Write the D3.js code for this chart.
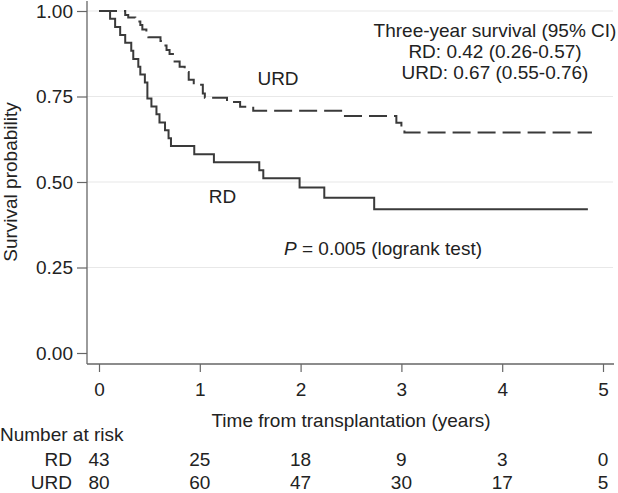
<!DOCTYPE html>
<html>
<head>
<meta charset="utf-8">
<script src="https://cdn.jsdelivr.net/npm/d3@7"></script>
<style>
  body { margin: 0; background: #fff; }
  svg { display: block; font-family: "Liberation Sans", Arial, Helvetica, sans-serif; }
</style>
</head>
<body>
<svg id="chart" width="618" height="493"></svg>
<script>
// ---- Data ----
const rdTimes = [0, 0.11, 0.16, 0.21, 0.26, 0.32, 0.34, 0.39, 0.41, 0.455, 0.48, 0.52, 0.57, 0.60, 0.655, 0.69, 0.714, 0.945, 1.14, 1.59, 1.63, 1.99, 2.235, 2.73, 4.85];
const rdSurv  = [1, 0.977, 0.953, 0.930, 0.907, 0.884, 0.860, 0.837, 0.814, 0.791, 0.744, 0.721, 0.698, 0.674, 0.651, 0.628, 0.605, 0.581, 0.558, 0.534, 0.511, 0.484, 0.454, 0.420, 0.420];

const urdTimes = [0, 0.26, 0.29, 0.36, 0.41, 0.43, 0.47, 0.49, 0.61, 0.64, 0.67, 0.70, 0.75, 0.80, 0.85, 0.89, 0.94, 1.03, 1.05, 1.27, 1.40, 1.53, 2.44, 2.95, 3.00, 3.03, 4.89];
const urdSurv  = [1, 0.988, 0.981, 0.969, 0.959, 0.946, 0.935, 0.923, 0.912, 0.899, 0.886, 0.874, 0.852, 0.837, 0.822, 0.799, 0.784, 0.759, 0.746, 0.734, 0.720, 0.708, 0.693, 0.673, 0.660, 0.645, 0.645];

const xTicks = [0, 1, 2, 3, 4, 5];
const yTicks = [0, 0.25, 0.5, 0.75, 1];
const riskGroups = ["RD", "URD"];
const riskRD  = [43, 25, 18, 9, 3, 0];
const riskURD = [80, 60, 47, 30, 17, 5];

const annotationLines = ["Three-year survival (95% CI)", "RD: 0.42 (0.26-0.57)", "URD: 0.67 (0.55-0.76)"];

// ---- Layout ----
const svg = d3.select("#chart");
const fs = 19;
const axisColor = "#666";
const textColor = "#222";
const lineColor = "#3a3a3a";

const x = d3.scaleLinear().domain([0, 5]).range([99, 603]);
const y = d3.scaleLinear().domain([0, 1]).range([353, 11]);

const plotLeft = 87, plotRight = 614, plotTop = 1, plotBottom = 364;

// gridlines
svg.append("g").selectAll("line")
  .data(yTicks.filter(d => d > 0))
  .join("line")
  .attr("x1", plotLeft).attr("x2", plotRight - 1)
  .attr("y1", d => y(d)).attr("y2", d => y(d))
  .attr("stroke", "#e8e8e8").attr("stroke-width", 1.2);

// y axis
const yAxis = svg.append("g")
  .attr("transform", `translate(${plotLeft},0)`)
  .call(d3.axisLeft(y).tickValues(yTicks).tickFormat(d3.format(".2f")).tickSize(10).tickPadding(4));
yAxis.select(".domain").remove();
yAxis.selectAll("line").attr("stroke", axisColor).attr("stroke-width", 1.2);
yAxis.selectAll("text").attr("font-size", fs).attr("fill", textColor)
  .attr("font-family", "Liberation Sans, Arial, sans-serif");

// x axis
const xAxis = svg.append("g")
  .attr("transform", `translate(0,${plotBottom})`)
  .call(d3.axisBottom(x).tickValues(xTicks).tickFormat(d3.format("d")).tickSize(8).tickPadding(11));
xAxis.select(".domain").remove();
xAxis.selectAll("line").attr("stroke", axisColor).attr("stroke-width", 1.2);
xAxis.selectAll("text").attr("font-size", fs).attr("fill", textColor)
  .attr("font-family", "Liberation Sans, Arial, sans-serif");

// axis lines
svg.append("line").attr("x1", plotLeft).attr("x2", plotLeft)
  .attr("y1", plotTop).attr("y2", plotBottom)
  .attr("stroke", axisColor).attr("stroke-width", 1.3);
svg.append("line").attr("x1", plotLeft).attr("x2", plotRight)
  .attr("y1", plotBottom).attr("y2", plotBottom)
  .attr("stroke", axisColor).attr("stroke-width", 1.3);

// axis titles
svg.append("text")
  .attr("transform", `translate(16.5,182) rotate(-90)`)
  .attr("text-anchor", "middle")
  .attr("font-size", fs).attr("fill", textColor)
  .text("Survival probability");

svg.append("text")
  .attr("x", x(2.5)).attr("y", 427)
  .attr("text-anchor", "middle")
  .attr("font-size", fs).attr("fill", textColor)
  .text("Time from transplantation (years)");

// curves
const line = d3.line().x(d => x(d[0])).y(d => y(d[1])).curve(d3.curveStepAfter);
const rdData = rdTimes.map((t, i) => [t, rdSurv[i]]);
const urdData = urdTimes.map((t, i) => [t, urdSurv[i]]);

svg.append("path").attr("d", line(urdData))
  .attr("fill", "none").attr("stroke", lineColor).attr("stroke-width", 2)
  .attr("stroke-dasharray", "18,7");
svg.append("path").attr("d", line(rdData))
  .attr("fill", "none").attr("stroke", lineColor).attr("stroke-width", 2);

// curve labels
svg.append("text").attr("x", 278).attr("y", 85).attr("text-anchor", "middle")
  .attr("font-size", fs).attr("fill", textColor).text("URD");
svg.append("text").attr("x", 222.5).attr("y", 203).attr("text-anchor", "middle")
  .attr("font-size", fs).attr("fill", textColor).text("RD");

// p-value
const pText = svg.append("text").attr("x", 284).attr("y", 255)
  .attr("font-size", fs).attr("fill", textColor);
pText.append("tspan").attr("font-style", "italic").text("P");
pText.append("tspan").text(" = 0.005 (logrank test)");

// annotation
svg.append("g").selectAll("text")
  .data(annotationLines)
  .join("text")
  .attr("x", 495).attr("y", (d, i) => 36.5 + i * 21)
  .attr("text-anchor", "middle")
  .attr("font-size", fs).attr("fill", textColor)
  .text(d => d);

// number at risk table
svg.append("text").attr("x", 0).attr("y", 441)
  .attr("font-size", fs).attr("fill", textColor).text("Number at risk");

const rows = [riskRD, riskURD];
const rowY = [466, 489];
rows.forEach((vals, r) => {
  svg.append("text").attr("x", 72).attr("y", rowY[r]).attr("text-anchor", "end")
    .attr("font-size", fs).attr("fill", textColor).text(riskGroups[r]);
  svg.append("g").selectAll("text")
    .data(vals)
    .join("text")
    .attr("x", (d, i) => x(xTicks[i]))
    .attr("y", rowY[r])
    .attr("text-anchor", "middle")
    .attr("font-size", fs).attr("fill", textColor)
    .text(d => d);
});
</script>
</body>
</html>
